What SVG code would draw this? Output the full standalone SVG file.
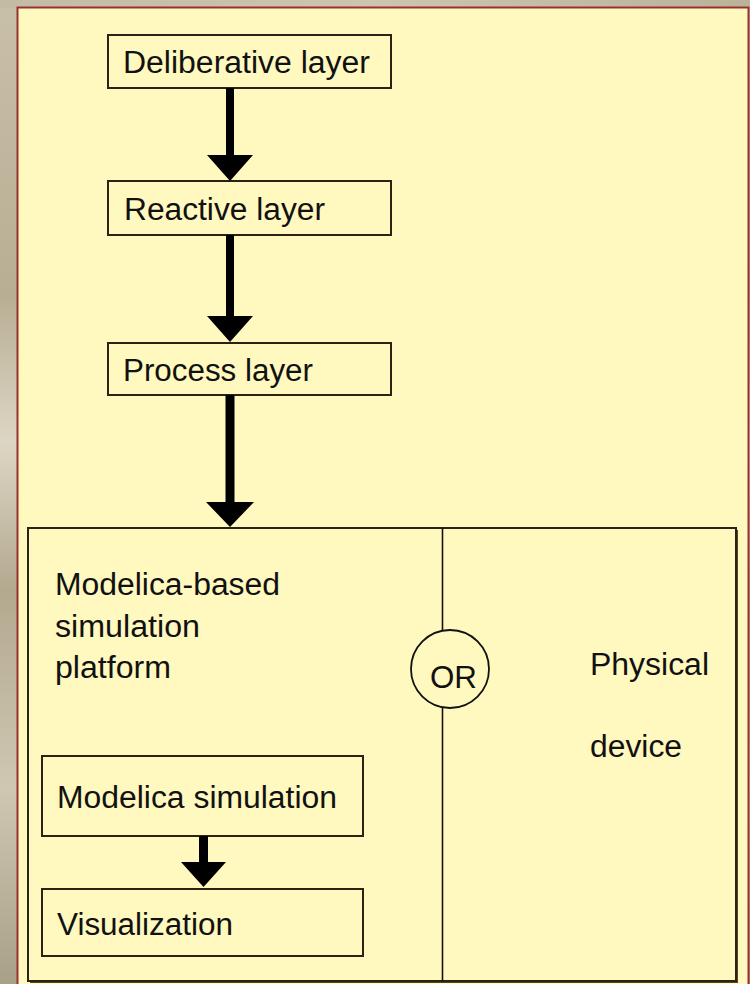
<svg xmlns="http://www.w3.org/2000/svg" width="750" height="984" viewBox="0 0 750 984">
  <defs>
    <linearGradient id="bgL" x1="0" y1="0" x2="0" y2="1">
      <stop offset="0" stop-color="#c9c0a8"/>
      <stop offset="0.3" stop-color="#b8ae94"/>
      <stop offset="0.45" stop-color="#ddd6c4"/>
      <stop offset="0.6" stop-color="#b3a98f"/>
      <stop offset="0.8" stop-color="#cfc7b2"/>
      <stop offset="1" stop-color="#a9a088"/>
    </linearGradient>
    <linearGradient id="bgT" x1="0" y1="0" x2="1" y2="0">
      <stop offset="0" stop-color="#c4bba4"/>
      <stop offset="0.5" stop-color="#cdc5b0"/>
      <stop offset="1" stop-color="#bbb29a"/>
    </linearGradient>
  </defs>
  <style>
    .box { fill: #fff8bf; stroke: #2a2212; stroke-width: 2; }
    .lbl { font-family: "Liberation Sans", Arial, Helvetica, sans-serif; font-size: 31px; fill: #111; }
    .arrow { fill: #000; }
    .thin { stroke: #111; stroke-width: 1.6; fill: none; }
  </style>

  <!-- backdrop -->
  <rect x="0" y="0" width="750" height="984" fill="url(#bgL)"/>
  <rect x="0" y="0" width="750" height="8" fill="url(#bgT)"/>
  <rect x="17.5" y="7.5" width="731" height="990" fill="#fff8bf" stroke="#9a3030" stroke-width="2"/>

  <g id="deliberative-layer">
    <rect class="box" x="108" y="35" width="283" height="53"/>
    <text class="lbl" x="123" y="73" textLength="247" lengthAdjust="spacingAndGlyphs">Deliberative layer</text>
  </g>

  <g id="reactive-layer">
    <rect class="box" x="108" y="181" width="283" height="54"/>
    <text class="lbl" x="124" y="220" textLength="201" lengthAdjust="spacingAndGlyphs">Reactive layer</text>
  </g>

  <g id="process-layer">
    <rect class="box" x="108" y="343" width="283" height="52"/>
    <text class="lbl" x="123" y="381" textLength="190" lengthAdjust="spacingAndGlyphs">Process layer</text>
  </g>

  <g id="execution-container">
    <rect x="30" y="530" width="708" height="453" fill="#5a4520"/>
    <rect class="box" x="28" y="528" width="708" height="453"/>
    <line class="thin" x1="442.5" y1="528" x2="442.5" y2="981"/>
  </g>

  <g id="simulation-platform">
    <text class="lbl" x="55" y="595" textLength="225" lengthAdjust="spacingAndGlyphs">Modelica-based</text>
    <text class="lbl" x="55" y="637" textLength="145" lengthAdjust="spacingAndGlyphs">simulation</text>
    <text class="lbl" x="55" y="678" textLength="116" lengthAdjust="spacingAndGlyphs">platform</text>
  </g>

  <g id="or-node">
    <circle cx="450" cy="669" r="39" fill="#fff8bf" stroke="#111" stroke-width="1.8"/>
    <text class="lbl" x="430" y="688" textLength="47" lengthAdjust="spacingAndGlyphs">OR</text>
  </g>

  <g id="physical-device">
    <text class="lbl" x="590" y="675" textLength="119" lengthAdjust="spacingAndGlyphs">Physical</text>
    <text class="lbl" x="590" y="757" textLength="92" lengthAdjust="spacingAndGlyphs">device</text>
  </g>

  <g id="modelica-simulation">
    <rect class="box" x="42" y="756" width="321" height="80"/>
    <text class="lbl" x="57" y="808" textLength="280" lengthAdjust="spacingAndGlyphs">Modelica simulation</text>
  </g>

  <g id="visualization">
    <rect class="box" x="42" y="889" width="321" height="67"/>
    <text class="lbl" x="57" y="935" textLength="176" lengthAdjust="spacingAndGlyphs">Visualization</text>
  </g>

  <!-- connectors -->
  <g id="connectors">
    <path class="arrow" d="M226,88 H234 V155 H253 L230,181 L207,155 H226 Z"/>
    <path class="arrow" d="M226,235 H234 V316 H253 L230,342 L207,316 H226 Z"/>
    <path class="arrow" d="M225.5,395 H234.5 V502 H254 L230,527 L206,502 H225.5 Z"/>
    <path class="arrow" d="M199,836 H208 V862 H226 L203.5,887 L181,862 H199 Z"/>
  </g>
</svg>
